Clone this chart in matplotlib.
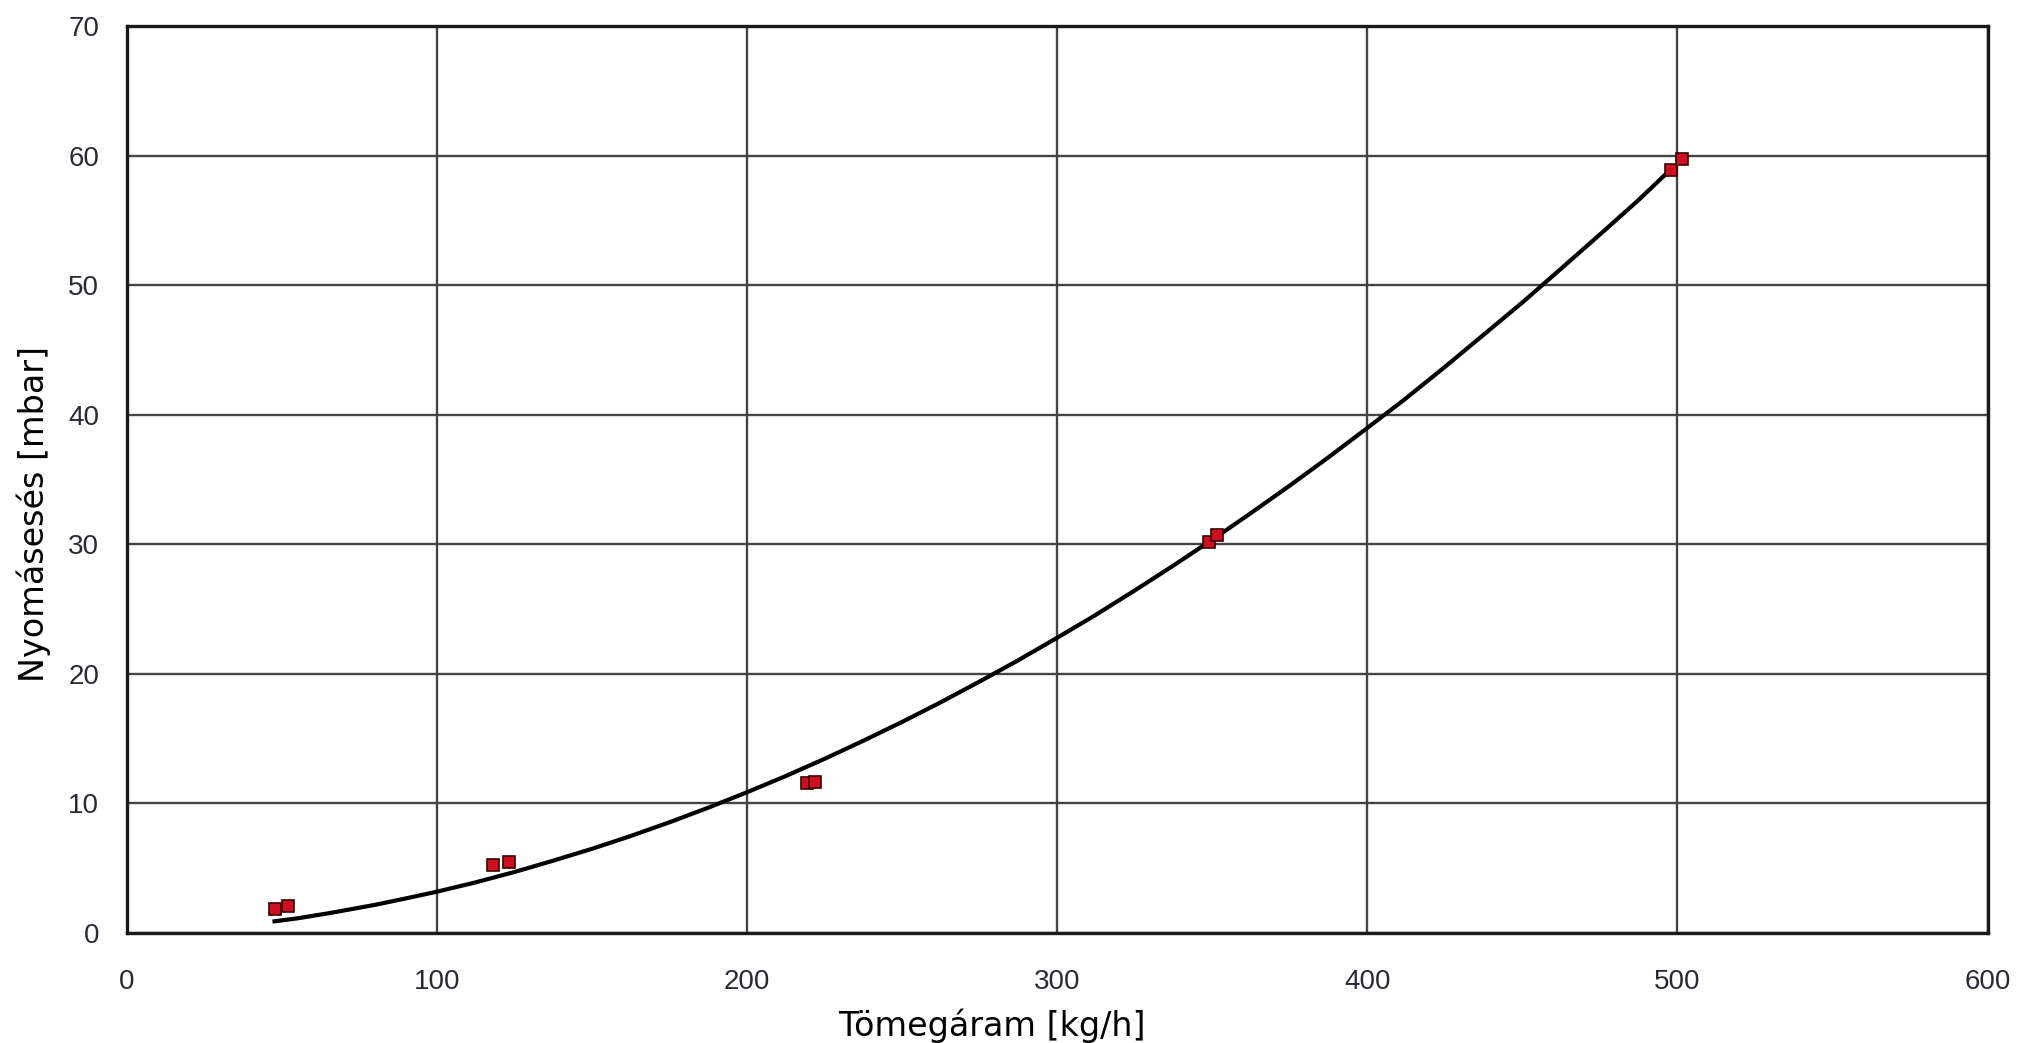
import matplotlib.pyplot as plt

# measured points (mass flow kg/h, pressure drop mbar)
flow = [47.6, 51.9, 118.1, 123.3, 219.4, 221.9, 348.9, 351.4, 497.9, 501.6]
dp = [1.85, 2.08, 5.25, 5.48, 11.55, 11.65, 30.2, 30.7, 58.9, 59.8]

# trend curve
curve_x = [47.6, 55, 65, 80, 90, 100, 112, 125, 137, 150, 162, 175, 187,
           200, 212, 225, 237, 250, 262, 275, 287, 300, 312, 325, 337, 350,
           362, 375, 387, 400, 412, 425, 437, 450, 462, 475, 487, 498]
curve_y = [0.9, 1.13, 1.52, 2.17, 2.67, 3.19, 3.88, 4.71, 5.55, 6.50,
           7.45, 8.55, 9.63, 10.87, 12.07, 13.45, 14.79, 16.30, 17.76,
           19.42, 21.00, 22.8, 24.5, 26.45, 28.3, 30.37, 32.35, 34.55,
           36.65, 39.0, 41.2, 43.71, 46.1, 48.69, 51.2, 53.94, 56.5, 59.0]

x_ticks = [0, 100, 200, 300, 400, 500, 600]
y_ticks = [0, 10, 20, 30, 40, 50, 60, 70]

fig = plt.figure(figsize=(20.24, 10.43), dpi=100)
ax = fig.add_axes([0.0627, 0.1055, 0.9193, 0.8691])

ax.plot(curve_x, curve_y, color='black', lw=3, zorder=3)
ax.plot(flow, dp, ls='none', marker='s', markersize=9,
        markerfacecolor='#cc1020', markeredgecolor='#3a0000',
        markeredgewidth=1.2, zorder=4)

ax.set_xlim(0, 600)
ax.set_ylim(0, 70)
ax.set_xticks(x_ticks)
ax.set_yticks(y_ticks)
ax.grid(True, color='#444444', lw=1.7)
ax.set_axisbelow(True)
for s in ax.spines.values():
    s.set_linewidth(2.4)
    s.set_color('#1a1a1a')

ax.tick_params(length=0, labelsize=20, labelcolor='#2a2a35')
ax.tick_params(axis='x', pad=26)
ax.tick_params(axis='y', pad=20)
for lbl in ax.get_xticklabels() + ax.get_yticklabels():
    lbl.set_family('Liberation Sans')

ax.set_xlabel('Tömegáram [kg/h]', fontsize=24, family='DejaVu Sans')
ax.set_ylabel('Nyomásesés [mbar]', fontsize=24, family='DejaVu Sans')
# labels in the original sit a bit off-centre
ax.xaxis.set_label_coords(0.465, -0.083)
ax.yaxis.set_label_coords(-0.041, 0.462)

fig.savefig('out.png', dpi=100, facecolor='white')
